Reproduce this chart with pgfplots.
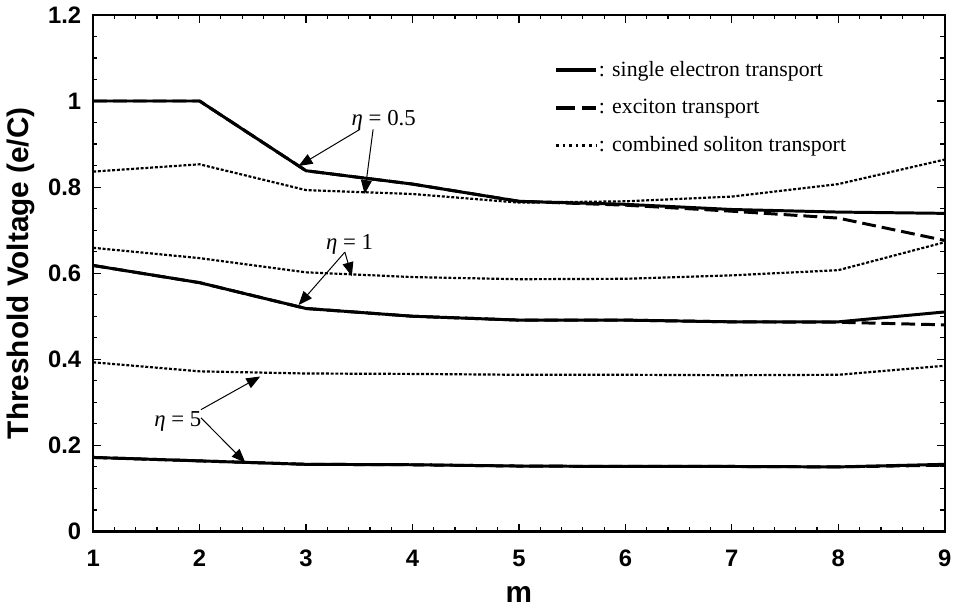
\documentclass[border=0pt]{standalone}
\usepackage{fontspec}
\setmainfont{Liberation Serif}
\setsansfont{Liberation Sans}
\usepackage{pgfplots}
\pgfplotsset{compat=1.18}
\usetikzlibrary{arrows.meta}

\begin{document}
\begin{tikzpicture}
\begin{axis}[
  scale only axis, width=429.5pt, height=260.5pt,
  xmin=1, xmax=9, ymin=0, ymax=1.2,
  xtick={1,2,3,4,5,6,7,8,9},
  ytick={0,0.2,0.4,0.6,0.8,1,1.2},
  minor x tick num=4, minor y tick num=3,
  tick align=inside, major tick length=4pt, minor tick length=2.2pt,
  axis line style={line width=1.2pt},
  every tick/.style={black, line width=0.6pt},
  /pgf/number format/assume math mode=true,
  tick label style={font=\sffamily\bfseries\fontsize{12}{14}\selectfont},
  xticklabel style={yshift=-6pt},
  yticklabel style={xshift=-2.5pt},
  xlabel={m}, ylabel={Threshold Voltage (e/C)},
  label style={font=\sffamily\bfseries\fontsize{15}{18}\selectfont},
  xlabel style={yshift=-3pt},
  legend style={at={(rel axis cs:0.541,0.915)}, anchor=north west, draw=none, fill=none,
    font=\fontsize{11}{13}\selectfont, row sep=8pt, inner sep=0pt,
    nodes={inner xsep=0.5pt, inner ysep=1pt}},
  legend cell align=left,
  legend image code/.code={\draw[#1] (0pt,0pt) -- (20pt,0pt);},
]
\addlegendimage{black, line width=2pt}
\addlegendentry{: single electron transport}
\addlegendimage{black, line width=2pt, dash pattern=on 9.5pt off 3.5pt}
\addlegendentry{: exciton transport}
\addlegendimage{black, line width=1.3pt, dash pattern=on 1.3pt off 2pt}
\addlegendentry{: combined soliton transport}

% eta = 0.5
\addplot[forget plot, black, line width=1.5pt, dash pattern=on 7pt off 3pt] coordinates
  {(1,1.0)(2,1.0)(3,0.838)(4,0.807)(5,0.767)(6,0.758)(7,0.744)(8,0.728)(9,0.676)};
\addplot[forget plot, black, line width=1.5pt] coordinates
  {(1,1.0)(2,1.0)(3,0.838)(4,0.807)(5,0.767)(6,0.760)(7,0.748)(8,0.742)(9,0.739)};
\addplot[forget plot, black, line width=1.1pt, dash pattern=on 1.5pt off 0.9pt] coordinates
  {(1,0.836)(2,0.853)(3,0.793)(4,0.784)(5,0.764)(6,0.767)(7,0.778)(8,0.807)(9,0.864)};

% eta = 1
\addplot[forget plot, black, line width=1.1pt, dash pattern=on 1.5pt off 0.9pt] coordinates
  {(1,0.659)(2,0.635)(3,0.602)(4,0.591)(5,0.586)(6,0.587)(7,0.595)(8,0.607)(9,0.672)};
\addplot[forget plot, black, line width=1.5pt, dash pattern=on 7pt off 3pt] coordinates
  {(1,0.618)(2,0.578)(3,0.518)(4,0.500)(5,0.491)(6,0.491)(7,0.487)(8,0.486)(9,0.480)};
\addplot[forget plot, black, line width=1.5pt] coordinates
  {(1,0.618)(2,0.578)(3,0.518)(4,0.500)(5,0.491)(6,0.491)(7,0.487)(8,0.487)(9,0.510)};

% eta = 5
\addplot[forget plot, black, line width=1.1pt, dash pattern=on 1.5pt off 0.9pt] coordinates
  {(1,0.393)(2,0.372)(3,0.367)(4,0.366)(5,0.364)(6,0.364)(7,0.363)(8,0.364)(9,0.385)};
\addplot[forget plot, black, line width=1.5pt, dash pattern=on 7pt off 3pt] coordinates
  {(1,0.172)(2,0.164)(3,0.156)(4,0.155)(5,0.152)(6,0.151)(7,0.151)(8,0.150)(9,0.154)};
\addplot[forget plot, black, line width=1.5pt] coordinates
  {(1,0.172)(2,0.164)(3,0.156)(4,0.155)(5,0.152)(6,0.151)(7,0.151)(8,0.150)(9,0.156)};

% annotations
\node[font=\fontsize{11.5}{13}\selectfont] at (axis cs:3.73,0.955) {{\itshape η} = 0.5};
\draw[-{Triangle[length=7pt,width=5.5pt]}, line width=0.5pt] (axis cs:3.505,0.934) -- (axis cs:2.93,0.849);
\draw[-{Triangle[length=7pt,width=5.5pt]}, line width=0.5pt] (axis cs:3.63,0.934) -- (axis cs:3.55,0.784);

\node[font=\fontsize{11.5}{13}\selectfont] at (axis cs:3.41,0.668) {{\itshape η} = 1};
\draw[-{Triangle[length=7pt,width=5.5pt]}, line width=0.5pt] (axis cs:3.365,0.649) -- (axis cs:3.43,0.593);
\draw[-{Triangle[length=7pt,width=5.5pt]}, line width=0.5pt] (axis cs:3.365,0.649) -- (axis cs:2.93,0.526);

\node[font=\fontsize{11.5}{13}\selectfont] at (axis cs:1.795,0.256) {{\itshape η} = 5};
\draw[-{Triangle[length=7pt,width=5.5pt]}, line width=0.5pt] (axis cs:2.013,0.283) -- (axis cs:2.57,0.36);
\draw[-{Triangle[length=7pt,width=5.5pt]}, line width=0.5pt] (axis cs:2.013,0.264) -- (axis cs:2.43,0.16);
\end{axis}
\end{tikzpicture}
\end{document}
